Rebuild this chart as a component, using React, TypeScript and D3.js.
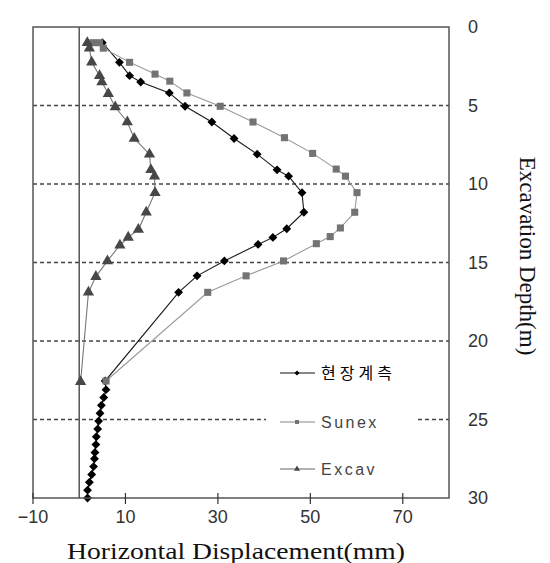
import React from 'react';
import * as d3 from 'd3';

// measured field data (depth m, displacement mm)
const fieldDepth = [1.0, 2.25, 3.1, 3.5, 4.2, 5.05, 6.05, 7.1, 8.1, 9.1, 9.5, 10.55, 11.8, 12.85, 13.4, 13.85, 14.9, 15.85, 16.9, 22.55,
  23.1, 23.6, 24.1, 24.6, 25.1, 25.6, 26.1, 26.6, 27.1, 27.5, 28.0, 28.5, 29.0, 29.5, 30.0];
const fieldDisp = [5.0, 8.7, 10.9, 13.3, 19.5, 22.9, 28.7, 33.5, 38.5, 42.8, 45.3, 48.2, 48.6, 44.9, 41.9, 38.7, 31.4, 25.5, 21.5, 5.6,
  5.8, 5.3, 4.8, 4.5, 4.2, 4.0, 3.7, 3.6, 3.4, 3.3, 3.1, 2.7, 2.2, 1.8, 1.8];

const sunexDepth = [1.0, 1.0, 1.35, 2.25, 3.0, 3.45, 4.2, 5.05, 6.05, 7.05, 8.05, 9.05, 9.5, 10.55, 11.8, 12.8, 13.35, 13.8, 14.9, 15.85, 16.9, 22.55];
const sunexDisp = [3.0, 4.4, 5.2, 10.9, 16.4, 19.6, 23.3, 30.5, 37.6, 44.4, 50.5, 55.6, 57.6, 60.1, 59.6, 56.5, 54.3, 51.3, 44.2, 36.1, 27.8, 5.8];

const excavDepth = [1.0, 1.35, 2.25, 3.1, 3.5, 4.25, 5.1, 6.05, 7.1, 8.1, 9.1, 9.5, 10.55, 11.8, 12.9, 13.4, 13.9, 14.9, 15.9, 16.9, 22.6];
const excavDisp = [1.75, 2.2, 2.7, 4.4, 4.9, 6.3, 7.8, 10.4, 11.9, 15.2, 15.5, 16.3, 16.4, 14.5, 12.8, 10.6, 8.8, 6.1, 3.6, 2.0, 0.3];

const xTicks = [-10, 10, 30, 50, 70];
const yTicks = [0, 5, 10, 15, 20, 25, 30];
const gridDepths = [5, 10, 15, 20, 25];
const legendLabels = ['현장계측', 'Sunex', 'Excav'];

const W = 550;
const H = 563;
const left = 33, right = 449, top = 27, bottom = 498;

const x = d3.scaleLinear().domain([-10, 80]).range([left, right]);
const y = d3.scaleLinear().domain([0, 30]).range([top, bottom]);

const pts = (ds: number[], vs: number[]) => ds.map((d, i) => [x(vs[i]), y(d)] as [number, number]);
const line = d3.line();

const series = [
  { name: legendLabels[0], p: pts(fieldDepth, fieldDisp), stroke: '#1a1a1a', legStroke: '#111', fill: '#000', sym: d3.symbolDiamond2, size: 50, text: '#000' },
  { name: legendLabels[1], p: pts(sunexDepth, sunexDisp), stroke: '#9a9a9a', legStroke: '#888', fill: '#737373', sym: d3.symbolSquare, size: 50, text: '#444' },
  { name: legendLabels[2], p: pts(excavDepth, excavDisp), stroke: '#777', legStroke: '#666', fill: '#474747', sym: d3.symbolTriangle, size: 55, text: '#444' },
];

export default function App() {
  const sans = 'Arial, "Liberation Sans", sans-serif';
  const serif = '"Liberation Serif", "Times New Roman", serif';
  const legY = [373, 422, 469];
  return (
    <svg width={W} height={H} style={{ position: 'absolute', left: 0, top: 0, background: '#fff' }}>
      <rect width={W} height={H} fill="#fff" />
      {/* grid */}
      {gridDepths.map((g) => (
        <line key={g} x1={left} x2={right} y1={y(g)} y2={y(g)} stroke="#444" strokeWidth={1.3} strokeDasharray="4,3" />
      ))}
      {/* zero line */}
      <line x1={x(0)} x2={x(0)} y1={top} y2={bottom} stroke="#555" strokeWidth={1.5} />
      {/* series */}
      {series.map((s) => (
        <g key={s.name}>
          <path d={line(s.p) || ''} fill="none" stroke={s.stroke} strokeWidth={1.1} />
          {s.p.map((q, i) => (
            <path key={i} transform={`translate(${q[0]},${q[1]})`} d={d3.symbol(s.sym, s.size)() || ''} fill={s.fill} />
          ))}
        </g>
      ))}
      {/* legend */}
      <rect x={266} y={352} width={149} height={132} fill="#fff" />
      {series.map((s, i) => (
        <g key={s.name}>
          <line x1={280} x2={315} y1={legY[i]} y2={legY[i]} stroke={s.legStroke} strokeWidth={1.2} />
          <path transform={`translate(297,${legY[i]})`} d={d3.symbol(s.sym, 16)() || ''} fill={s.fill} />
          <text x={321} y={legY[i]} dy="0.35em" fontSize={16} fontFamily={i === 0 ? '"Noto Sans CJK KR", sans-serif' : sans} letterSpacing={i === 0 ? 4 : 2.5} fill={s.text}>
            {s.name}
          </text>
        </g>
      ))}
      {/* frame */}
      <rect x={left} y={top} width={right - left} height={bottom - top} fill="none" stroke="#555" strokeWidth={1.5} />
      {/* x ticks */}
      {xTicks.map((t) => (
        <g key={t}>
          <line x1={x(t)} x2={x(t)} y1={bottom - 5} y2={bottom + 6} stroke="#333" strokeWidth={1.2} />
          <text x={x(t)} y={517} dy="0.35em" textAnchor="middle" fontSize={18} fontFamily={sans} fill="#333">
            {t < 0 ? `\u2212${Math.abs(t)}` : t}
          </text>
        </g>
      ))}
      {yTicks.map((t) => (
        <text key={t} x={468} y={y(t)} dy="0.35em" fontSize={18} fontFamily={sans} fill="#333">
          {t}
        </text>
      ))}
      <text transform="translate(236,559) scale(1.2,1)" textAnchor="middle" fontSize={23} fontFamily={serif} fill="#111">
        Horizontal Displacement(mm)
      </text>
      <text transform={`translate(520,256) rotate(90)`} textAnchor="middle" fontSize={23} fontFamily={serif} fill="#111">
        Excavation Depth(m)
      </text>
    </svg>
  );
}
